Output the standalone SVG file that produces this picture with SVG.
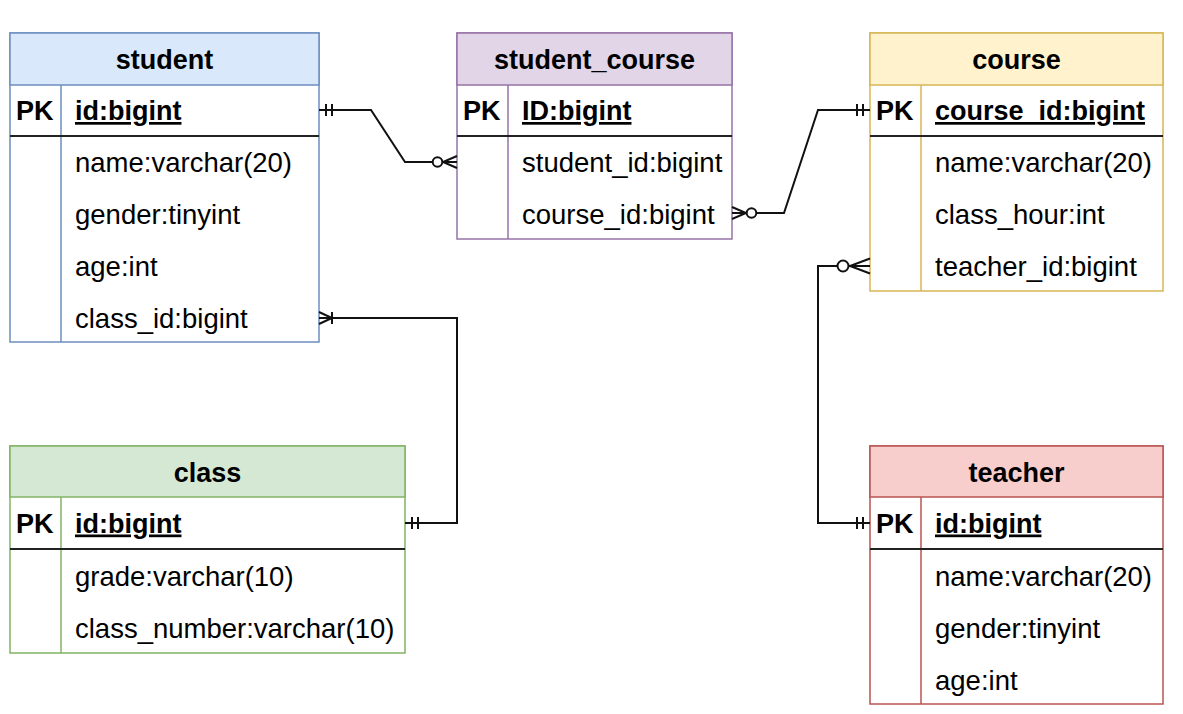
<svg xmlns="http://www.w3.org/2000/svg" width="1183" height="714" viewBox="0 0 1183 714">
<defs>
<style>
text{font-family:"Liberation Sans",Arial,sans-serif;font-size:27.5px;fill:#000}
.title{font-weight:bold;text-anchor:middle;font-size:27px}
.pk{font-weight:bold;font-size:27px}
.key{font-weight:bold;text-decoration:underline;font-size:27px}
.sep{stroke:#222;stroke-width:2}
.conn{fill:none;stroke:#111;stroke-width:2}
.mk{fill:none;stroke:#111;stroke-width:2}
.blue .box{fill:#fff;stroke:#6c8ebf;stroke-width:1.5}
.blue .hd{fill:#dae8fc;stroke:#6c8ebf;stroke-width:1.5}
.blue .div{stroke:#6c8ebf;stroke-width:1.5}
.purple .box{fill:#fff;stroke:#9673a6;stroke-width:1.5}
.purple .hd{fill:#e1d5e7;stroke:#9673a6;stroke-width:1.5}
.purple .div{stroke:#9673a6;stroke-width:1.5}
.yellow .box{fill:#fff;stroke:#d6b656;stroke-width:1.5}
.yellow .hd{fill:#fff2cc;stroke:#d6b656;stroke-width:1.5}
.yellow .div{stroke:#d6b656;stroke-width:1.5}
.green .box{fill:#fff;stroke:#82b366;stroke-width:1.5}
.green .hd{fill:#d5e8d4;stroke:#82b366;stroke-width:1.5}
.green .div{stroke:#82b366;stroke-width:1.5}
.red .box{fill:#fff;stroke:#b85450;stroke-width:1.5}
.red .hd{fill:#f8cecc;stroke:#b85450;stroke-width:1.5}
.red .div{stroke:#b85450;stroke-width:1.5}
</style>
<marker id="one" markerUnits="userSpaceOnUse" orient="auto-start-reverse" refX="0" refY="0" markerWidth="40" markerHeight="40" overflow="visible">
<path class="mk" d="M-7,-6V6M-13,-6V6"/>
</marker>
<marker id="zeroMany" markerUnits="userSpaceOnUse" orient="auto-start-reverse" refX="0" refY="0" markerWidth="40" markerHeight="40" overflow="visible">
<path class="mk" d="M0,-6L-14,0L0,6M-14,0H0"/>
<circle cx="-19.5" cy="0" r="4.8" fill="#fff" stroke="#111" stroke-width="2"/>
</marker>
<marker id="zeroManyL" markerUnits="userSpaceOnUse" orient="auto-start-reverse" refX="0" refY="0" markerWidth="50" markerHeight="50" overflow="visible">
<path class="mk" d="M0,-7.5L-20,0L0,7.5M-20,0H0"/>
<circle cx="-27" cy="0" r="5.5" fill="#fff" stroke="#111" stroke-width="2"/>
</marker>
<marker id="oneMany" markerUnits="userSpaceOnUse" orient="auto-start-reverse" refX="0" refY="0" markerWidth="40" markerHeight="40" overflow="visible">
<path class="mk" d="M0,-6L-13,0L0,6M-13,-6V6"/>
</marker>
</defs>
<rect width="1183" height="714" fill="#fff"/>

<g id="student" class="blue">
<rect class="box" x="10" y="33" width="309" height="309"/>
<rect class="hd" x="10" y="33" width="309" height="52"/>
<line class="div" x1="61" y1="85" x2="61" y2="342"/>
<line class="sep" x1="10" y1="136" x2="319" y2="136"/>
<text class="title" x="164.5" y="68.5">student</text>
<text class="pk" x="16" y="120">PK</text>
<text class="key" x="75" y="120">id:bigint</text>
<text x="75" y="171.5">name:varchar(20)</text>
<text x="75" y="223.5">gender:tinyint</text>
<text x="75" y="275.5">age:int</text>
<text x="75" y="327.5">class_id:bigint</text>
</g>

<g id="student_course" class="purple">
<rect class="box" x="457" y="33" width="275" height="206"/>
<rect class="hd" x="457" y="33" width="275" height="52"/>
<line class="div" x1="508" y1="85" x2="508" y2="239"/>
<line class="sep" x1="457" y1="136" x2="732" y2="136"/>
<text class="title" x="594.5" y="68.5">student_course</text>
<text class="pk" x="463" y="120">PK</text>
<text class="key" x="522" y="120">ID:bigint</text>
<text x="522" y="171.5">student_id:bigint</text>
<text x="522" y="223.5">course_id:bigint</text>
</g>

<g id="course" class="yellow">
<rect class="box" x="870" y="33" width="293" height="258"/>
<rect class="hd" x="870" y="33" width="293" height="52"/>
<line class="div" x1="921" y1="85" x2="921" y2="291"/>
<line class="sep" x1="870" y1="136" x2="1163" y2="136"/>
<text class="title" x="1016.5" y="68.5">course</text>
<text class="pk" x="876" y="120">PK</text>
<text class="key" x="935" y="120">course_id:bigint</text>
<text x="935" y="171.5">name:varchar(20)</text>
<text x="935" y="223.5">class_hour:int</text>
<text x="935" y="275.5">teacher_id:bigint</text>
</g>

<g id="class" class="green">
<rect class="box" x="10" y="446" width="395" height="207"/>
<rect class="hd" x="10" y="446" width="395" height="51"/>
<line class="div" x1="61" y1="497" x2="61" y2="653"/>
<line class="sep" x1="10" y1="549" x2="405" y2="549"/>
<text class="title" x="207.5" y="481.5">class</text>
<text class="pk" x="16" y="532.5">PK</text>
<text class="key" x="75" y="532.5">id:bigint</text>
<text x="75" y="585.5">grade:varchar(10)</text>
<text x="75" y="637.5">class_number:varchar(10)</text>
</g>

<g id="teacher" class="red">
<rect class="box" x="870" y="446" width="293" height="258"/>
<rect class="hd" x="870" y="446" width="293" height="51"/>
<line class="div" x1="921" y1="497" x2="921" y2="704"/>
<line class="sep" x1="870" y1="549" x2="1163" y2="549"/>
<text class="title" x="1016.5" y="481.5">teacher</text>
<text class="pk" x="876" y="532.5">PK</text>
<text class="key" x="935" y="532.5">id:bigint</text>
<text x="935" y="585.5">name:varchar(20)</text>
<text x="935" y="637.5">gender:tinyint</text>
<text x="935" y="689.5">age:int</text>
</g>

<g id="connectors">
<path class="conn" d="M319,110H371L405,162H457" marker-start="url(#one)" marker-end="url(#zeroMany)"/>
<path class="conn" d="M732,213H784L818,110H870" marker-start="url(#zeroMany)" marker-end="url(#one)"/>
<path class="conn" d="M319,318H457V523H405" marker-start="url(#oneMany)" marker-end="url(#one)"/>
<path class="conn" d="M870,266H818V523H870" marker-start="url(#zeroManyL)" marker-end="url(#one)"/>
</g>
</svg>
